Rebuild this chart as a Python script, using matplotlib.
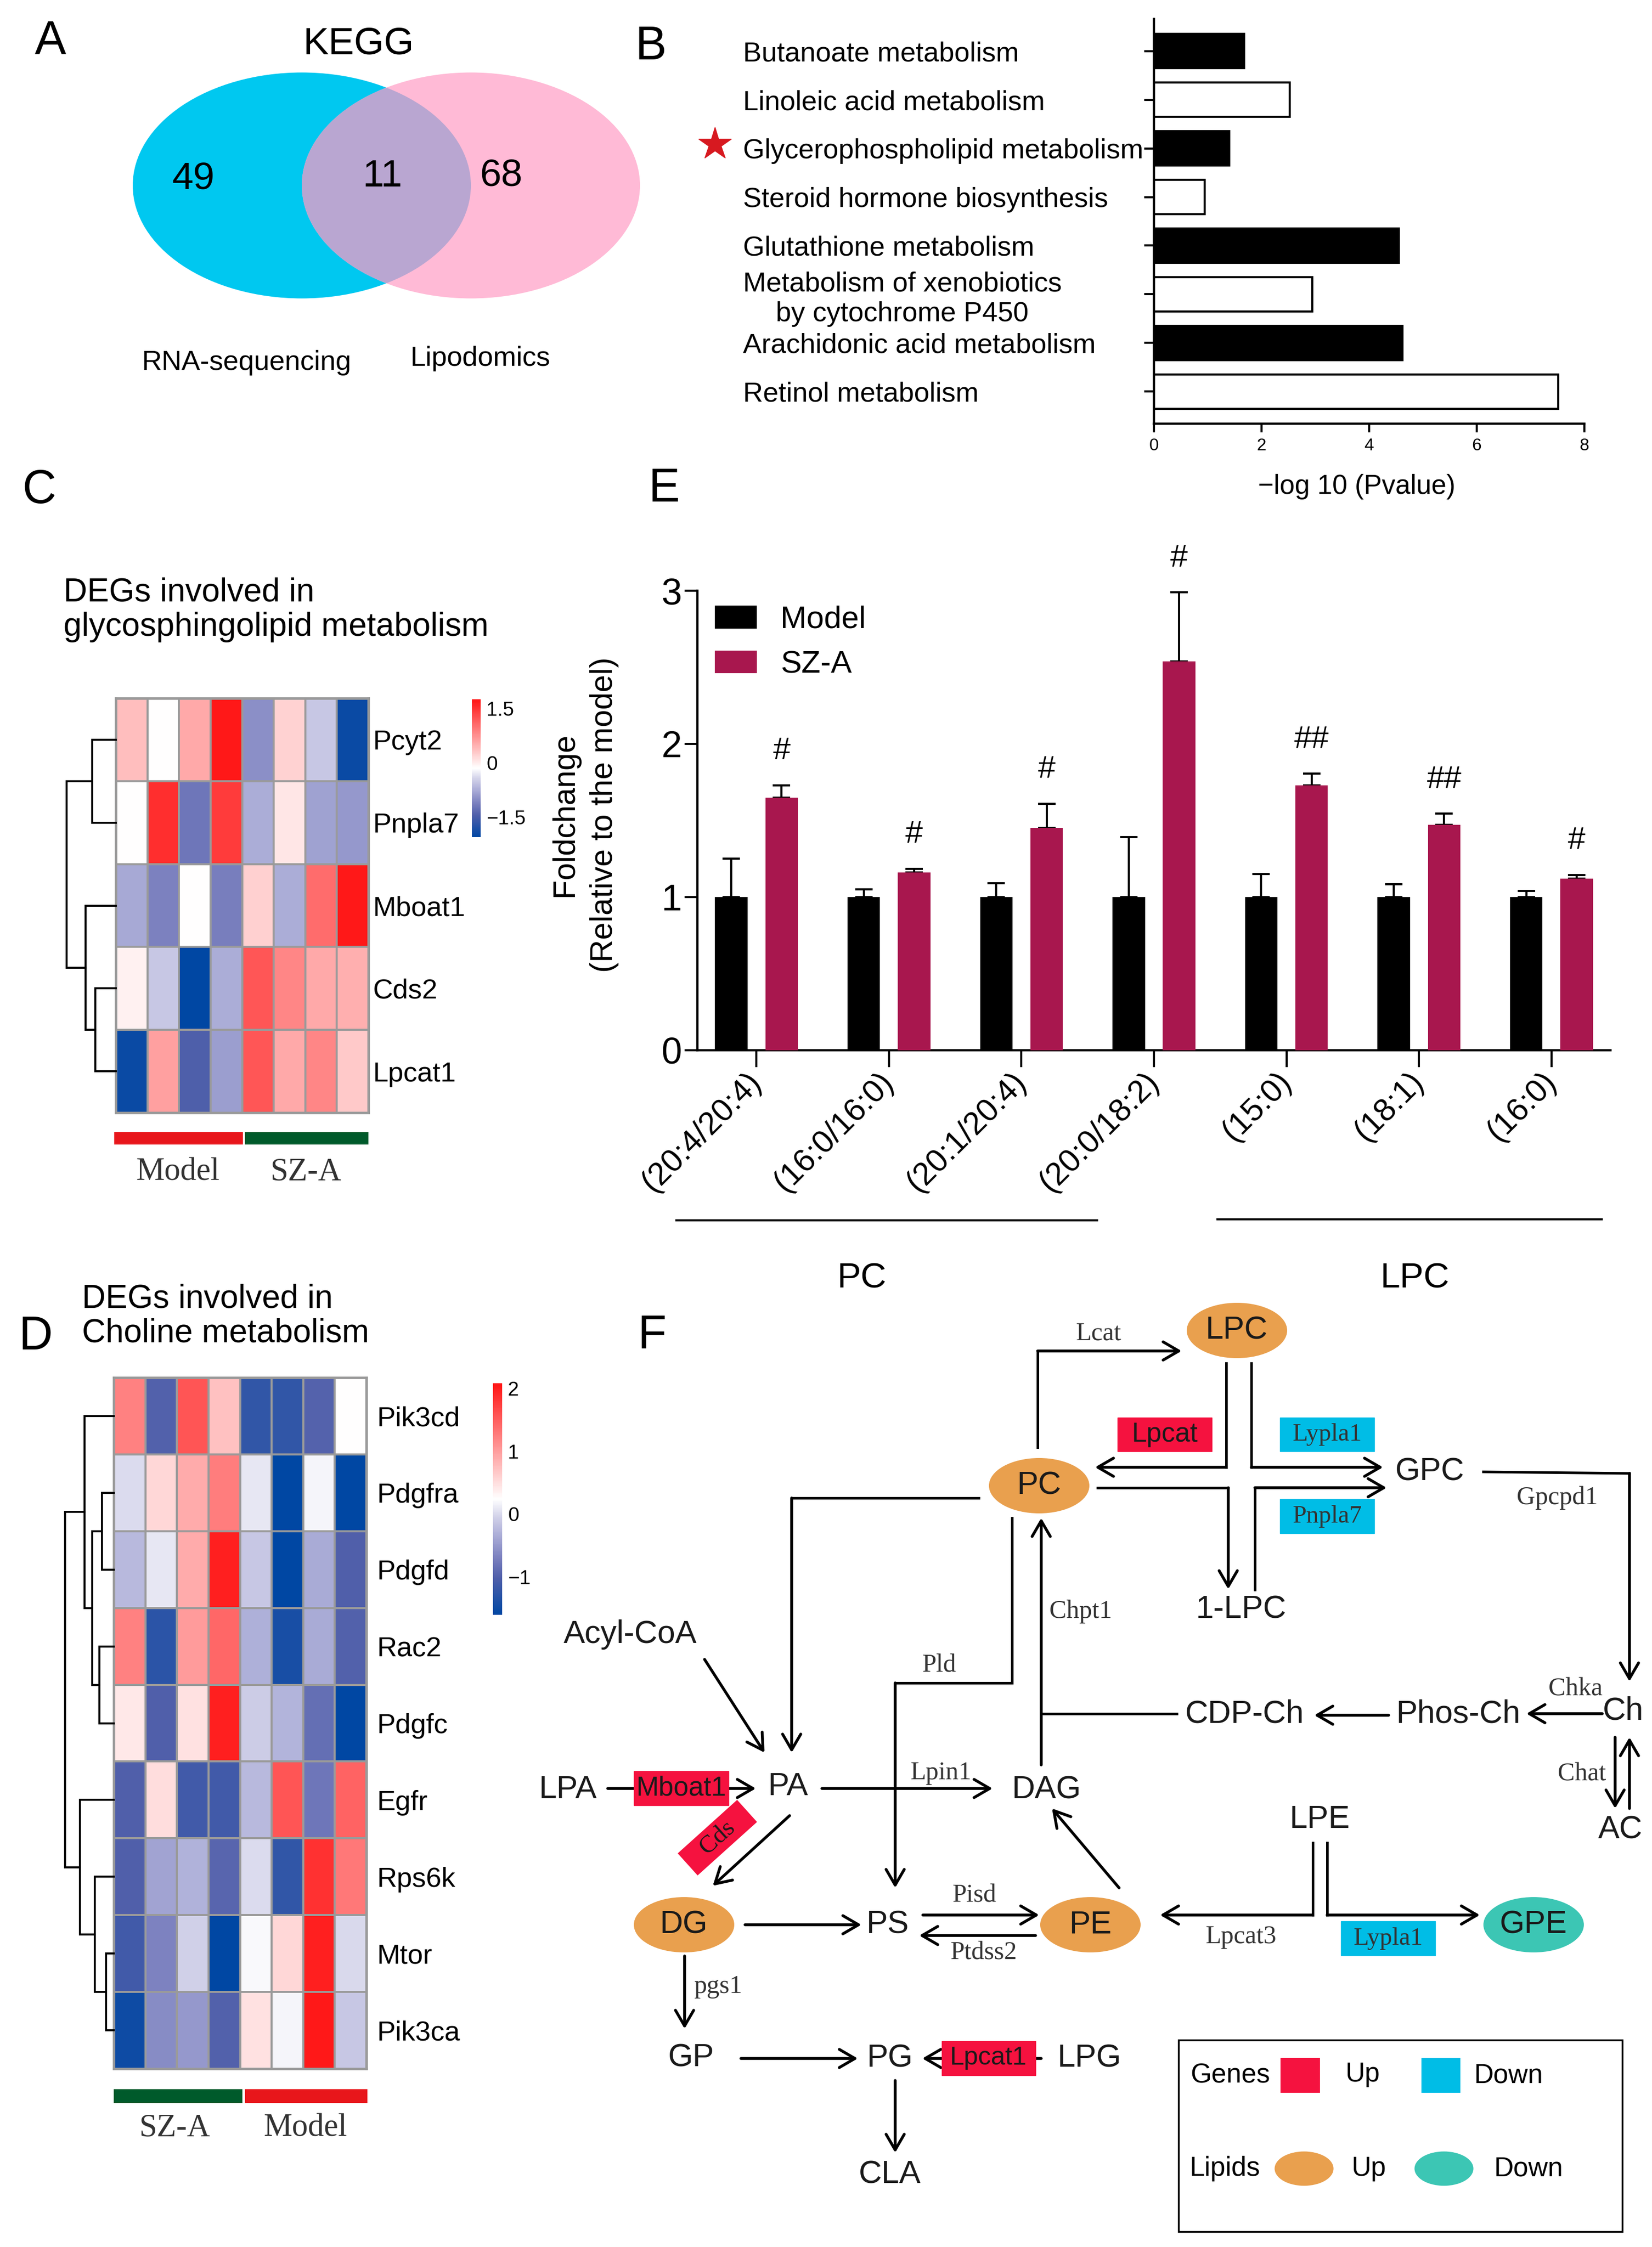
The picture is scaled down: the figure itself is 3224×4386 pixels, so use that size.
import matplotlib
matplotlib.use("Agg")
import matplotlib.pyplot as plt
import numpy as np
from matplotlib.patches import Ellipse, Rectangle
from matplotlib.colors import LinearSegmentedColormap, Normalize
from matplotlib.transforms import Affine2D

W, H = 3224, 4386
DPI = 100

SANS = ["Liberation Sans", "DejaVu Sans"]
SERIF = ["Liberation Serif", "DejaVu Serif"]
plt.rcParams["font.family"] = SANS

# ---------------- data ----------------
venn_counts = [49, 11, 68]
venn_sets = ["RNA-sequencing", "Lipodomics"]

kegg_pathways = ["Butanoate metabolism", "Linoleic acid metabolism",
                 "Glycerophospholipid metabolism", "Steroid hormone biosynthesis",
                 "Glutathione metabolism",
                 "Metabolism of xenobiotics\nby cytochrome P450",
                 "Arachidonic acid metabolism", "Retinol metabolism"]
kegg_logp = [1.68, 2.52, 1.40, 0.94, 4.55, 2.94, 4.62, 7.51]
kegg_filled = [True, False, True, False, True, False, True, False]

lipid_species = ["(20:4/20:4)", "(16:0/16:0)", "(20:1/20:4)", "(20:0/18:2)",
                 "(15:0)", "(18:1)", "(16:0)"]
model_fc = [1.0, 1.0, 1.0, 1.0, 1.0, 1.0, 1.0]
model_err = [0.25, 0.05, 0.09, 0.39, 0.15, 0.085, 0.04]
sza_fc = [1.65, 1.16, 1.45, 2.54, 1.73, 1.47, 1.12]
sza_err = [0.08, 0.025, 0.16, 0.45, 0.075, 0.075, 0.025]
sza_sig = ["#", "#", "#", "#", "##", "##", "#"]

genes_c = ["Pcyt2", "Pnpla7", "Mboat1", "Cds2", "Lpcat1"]
groups_c = ["Model", "SZ-A"]
expr_c = [
    [0.39, -0.14, 0.54, 1.72, -0.98, 0.22, -0.53, -1.97],
    [-0.14, 1.55, -1.21, 1.44, -0.75, 0.06, -0.83, -0.91],
    [-0.78, -1.10, -0.14, -1.13, 0.24, -0.75, 1.04, 1.72],
    [-0.03, -0.53, -2.05, -0.75, 1.21, 0.83, 0.54, 0.50],
    [-1.97, 0.62, -1.44, -0.87, 1.21, 0.54, 0.83, 0.30],
]
# merges (left, right, height); new nodes numbered after leaves
tree_c = [(0, 1, 46), (3, 4, 40), (2, 6, 59), (5, 7, 96)]
range_c = (-2.05, 1.76)

genes_d = ["Pik3cd", "Pdgfra", "Pdgfd", "Rac2", "Pdgfc", "Egfr", "Rps6k", "Mtor", "Pik3ca"]
groups_d = ["SZ-A", "Model"]
expr_d = [
    [1.23, -0.99, 1.57, 0.72, -1.23, -1.23, -0.97, 0.24],
    [0.02, 0.55, 0.90, 1.25, 0.09, -1.60, 0.17, -1.60],
    [-0.24, 0.09, 0.90, 1.99, -0.13, -1.60, -0.35, -1.01],
    [1.23, -1.27, 1.03, 1.42, -0.31, -1.42, -0.35, -0.99],
    [0.42, -1.00, 0.48, 1.99, -0.09, -0.28, -0.86, -1.60],
    [-1.00, 0.50, -1.12, -1.12, -0.24, 1.57, -0.79, 1.46],
    [-1.00, -0.42, -0.30, -0.95, 0.02, -1.23, 1.84, 1.29],
    [-1.12, -0.68, -0.05, -1.60, 0.20, 0.55, 1.99, 0.00],
    [-1.49, -0.60, -0.50, -0.99, 0.48, 0.18, 2.05, -0.13],
]
tree_d = [(1, 2, 23), (3, 4, 28), (9, 10, 42), (0, 11, 57),
          (7, 8, 15), (6, 13, 37), (5, 14, 66), (12, 15, 95)]
range_d = (-1.6, 2.08)

# ---------------- helpers ----------------
fig = plt.figure(figsize=(W / DPI, H / DPI), dpi=DPI)


def px_axes(x0, y0, x1, y1):
    return fig.add_axes([x0 / W, 1 - y1 / H, (x1 - x0) / W, (y1 - y0) / H])


ov = px_axes(0, 0, W, H)
ov.set_xlim(0, W)
ov.set_ylim(H, 0)
ov.axis("off")

LW = 3.6
RED_BOX = "#F5123F"
BLUE_BOX = "#00BDE6"
ORANGE = "#E9A04E"
TEAL = "#3CC6B4"

heat_cmap = LinearSegmentedColormap.from_list("bwr2", [
    (0.0, (0 / 255, 71 / 255, 163 / 255)),
    (0.16, (80 / 255, 95 / 255, 170 / 255)),
    (0.25, (125 / 255, 130 / 255, 192 / 255)),
    (0.34, (170 / 255, 172 / 255, 215 / 255)),
    (0.42, (208 / 255, 208 / 255, 232 / 255)),
    (0.5, (1, 1, 1)),
    (1.0, (1, 20 / 255, 20 / 255)),
])


def txt(x, y, s, size=45, family=SANS, **kw):
    kw.setdefault("ha", "center")
    kw.setdefault("va", "center")
    ov.text(x, y, s, fontsize=size, family=family, **kw)


def path_arrow(pts, head=True):
    xs = [p[0] for p in pts]
    ys = [p[1] for p in pts]
    if not head:
        ov.plot(xs, ys, color="k", lw=LW, solid_capstyle="butt", zorder=2)
        return
    if len(pts) > 2:
        ov.plot(xs[:-1], ys[:-1], color="k", lw=LW, solid_capstyle="projecting",
                solid_joinstyle="miter", zorder=2)
    ov.annotate("", xy=pts[-1], xytext=pts[-2],
                arrowprops=dict(arrowstyle="->,head_length=0.55,head_width=0.32",
                                lw=LW + 0.4, color="k", mutation_scale=40,
                                shrinkA=0, shrinkB=0), zorder=2)


def gene_box(x0, y0, x1, y1, label, color, family=SANS, size=38, tcol="#1a1a1a"):
    ov.add_patch(Rectangle((x0, y0), x1 - x0, y1 - y0, color=color, zorder=3))
    ov.text((x0 + x1) / 2, (y0 + y1) / 2, label, fontsize=size, family=family,
            ha="center", va="center", color=tcol, zorder=4)


def draw_tree(ax, merges, n):
    ypos = list(range(n))
    hts = [0] * n
    for a, b, h in merges:
        ax.plot([hts[a], h, h, hts[b]], [ypos[a], ypos[a], ypos[b], ypos[b]],
                color="k", lw=2.8, clip_on=False, solid_joinstyle="miter")
        ypos.append((ypos[a] + ypos[b]) / 2)
        hts.append(h)
    ax.set_xlim(merges[-1][2], 0)
    ax.set_ylim(n - 0.5, -0.5)
    ax.axis("off")


def heatmap(box, tree_box, cbar_box, values, genes, vrange, merges, cticks,
            cticklabels, label_pad):
    ax = px_axes(*box)
    data = np.array(values)
    norm = Normalize(vmin=vrange[0], vmax=vrange[1])
    mesh = ax.pcolormesh(data, cmap=heat_cmap, norm=norm, edgecolors="#9a9a9a",
                         linewidth=2.8)
    ax.set_xlim(0, data.shape[1])
    ax.set_ylim(data.shape[0], 0)
    ax.set_xticks([])
    ax.yaxis.tick_right()
    ax.set_yticks(np.arange(len(genes)) + 0.5, genes, fontsize=39)
    ax.tick_params(axis="y", length=0, pad=label_pad)
    for s in ax.spines.values():
        s.set_color("#9a9a9a")
        s.set_linewidth(3.5)
    tax = px_axes(*tree_box)
    draw_tree(tax, merges, len(genes))
    cax = px_axes(*cbar_box)
    cb = fig.colorbar(mesh, cax=cax, ticks=cticks)
    cb.outline.set_visible(False)
    cb.ax.set_yticklabels(cticklabels, fontsize=28)
    cb.ax.tick_params(length=0, pad=8)
    return ax


# ---------------- A: Venn ----------------
txt(98, 82, "A", size=66)
txt(700, 86, "KEGG", size=54)
e_blue = Ellipse((589, 362), 660, 441, color="#00C8F0", lw=0)
e_pink = Ellipse((919, 362), 660, 441, color="#FFBAD6", lw=0)
ov.add_patch(e_blue)
ov.add_patch(e_pink)
e_mid = Ellipse((589, 362), 660, 441, color="#B9A6D1", lw=0)
ov.add_patch(e_mid)
e_mid.set_clip_path(e_pink)
txt(377, 350, str(venn_counts[0]), size=54)
txt(746, 345, str(venn_counts[1]), size=54)
txt(978, 343, str(venn_counts[2]), size=54)
txt(481, 708, venn_sets[0], size=39)
txt(937, 700, venn_sets[1], size=39)

# ---------------- B: KEGG bars ----------------
txt(1270, 92, "B", size=66)
axB = px_axes(2252, 37, 3092, 827)
yB = np.arange(len(kegg_pathways))
axB.barh(yB, kegg_logp, height=0.7,
         color=["black" if f else "white" for f in kegg_filled],
         edgecolor="black", linewidth=3)
axB.set_xlim(0, 8)
axB.set_ylim(len(kegg_pathways) - 0.34, -0.66)
for s in ["top", "right"]:
    axB.spines[s].set_visible(False)
for s in ["left", "bottom"]:
    axB.spines[s].set_linewidth(3.2)
axB.set_xticks([0, 2, 4, 6, 8])
axB.tick_params(axis="x", labelsize=24, width=3, length=12, pad=8)
axB.set_yticks(yB, kegg_pathways)
axB.tick_params(axis="y", labelsize=39, width=3, length=14, pad=(2252 - 14 - 1455) * 0.72)
for lab in axB.get_yticklabels():
    lab.set_ha("left")
    lab.set_multialignment("center")
txt(2648, 950, "\u2212log 10 (Pvalue)", size=38)
ov.plot([1395], [281], marker="*", markersize=48, color="#D71920", mec="#D71920")

# ---------------- E: bar chart ----------------
txt(1296, 955, "E", size=66)
axE = px_axes(1361, 1153, 3143, 2050)
xE = np.arange(len(lipid_species))
bw, off = 0.245, 0.19
axE.bar(xE - off, model_fc, width=bw, color="black", zorder=3, label="Model")
axE.bar(xE + off, sza_fc, width=bw, color="#A8174E", zorder=3, label="SZ-A")
axE.errorbar(xE - off, model_fc, yerr=[np.zeros(7), model_err], fmt="none",
             ecolor="black", elinewidth=3, capsize=12, capthick=3, zorder=2)
axE.errorbar(xE + off, sza_fc, yerr=[np.zeros(7), sza_err], fmt="none",
             ecolor="black", elinewidth=3, capsize=12, capthick=3, zorder=2)
for xi, v, e, s in zip(xE, sza_fc, sza_err, sza_sig):
    axE.text(xi + off, v + e + 0.22, s, fontsize=44, ha="center", va="center")
axE.set_xlim(-0.445, len(lipid_species) - 0.555)
axE.set_ylim(0, 3)
for s in ["top", "right"]:
    axE.spines[s].set_visible(False)
for s in ["left", "bottom"]:
    axE.spines[s].set_linewidth(3.2)
axE.set_yticks([0, 1, 2, 3])
axE.tick_params(axis="y", labelsize=52, width=3, length=18, pad=4)
axE.set_xticks(xE, lipid_species, rotation=45, ha="right", va="center",
               rotation_mode="anchor")
axE.tick_params(axis="x", labelsize=45, width=3, length=24, pad=14)
leg = axE.legend(loc="upper left", bbox_to_anchor=(0.019, 0.968), frameon=False,
                 fontsize=44, handlelength=1.35, handleheight=0.75,
                 handletextpad=0.75, labelspacing=0.5, borderpad=0,
                 borderaxespad=0)
txt(1141, 1590, "Foldchange\n(Relative to the model)", size=44, rotation=90,
    multialignment="center", linespacing=1.45)
ov.plot([1320, 2141], [2382, 2382], color="k", lw=3)
ov.plot([2376, 3126], [2380, 2380], color="k", lw=3)
txt(1682, 2495, "PC", size=50)
txt(2761, 2495, "LPC", size=50)

# ---------------- C: heatmap ----------------
txt(76, 958, "C", size=66)
txt(124, 1190, "DEGs involved in\nglycosphingolipid metabolism", size=46,
    ha="left", linespacing=1.15)
heatmap((226, 1363, 719, 2172), (130, 1363, 226, 2172), (921, 1365, 938, 1634),
        expr_c, genes_c, range_c, tree_c, [1.5, 0, -1.5], ["1.5", "0", "\u22121.5"], 6)
ov.add_patch(Rectangle((223, 2210), 251, 24, color="#E8161B", lw=0))
ov.add_patch(Rectangle((478, 2210), 241, 24, color="#005A2B", lw=0))
txt(347, 2288, groups_c[0], size=45, family=SERIF, color="#333333")
txt(597, 2288, groups_c[1], size=45, family=SERIF, color="#333333")

# ---------------- D: heatmap ----------------
txt(70, 2610, "D", size=66)
txt(160, 2569, "DEGs involved in\nCholine metabolism", size=46, ha="left",
    linespacing=1.15)
heatmap((222, 2689, 715, 4038), (127, 2689, 222, 4038), (962, 2700, 980, 3152),
        expr_d, genes_d, range_d, tree_d, [2, 1, 0, -1], ["2", "1", "0", "\u22121"], 15)
ov.add_patch(Rectangle((222, 4078), 251, 27, color="#005A2B", lw=0))
ov.add_patch(Rectangle((478, 4078), 239, 27, color="#E8161B", lw=0))
txt(341, 4155, groups_d[0], size=45, family=SERIF, color="#333333")
txt(596, 4155, groups_d[1], size=45, family=SERIF, color="#333333")

# ---------------- F: pathway ----------------
txt(1272, 2608, "F", size=66)
for (cx, cy), col in [((2414, 2597), ORANGE), ((2028, 2900), ORANGE),
                      ((1335, 3757), ORANGE), ((2128, 3757), ORANGE),
                      ((2993, 3757), TEAL)]:
    ov.add_patch(Ellipse((cx, cy), 196, 108, color=col, lw=0, zorder=1))

arrows = [
    [(2025, 2825), (2025, 2637), (2306, 2637)],
    [(2393, 2661), (2393, 2864), (2137, 2864)],
    [(2442, 2661), (2442, 2864), (2699, 2864)],
    [(2142, 2904), (2397, 2904), (2397, 3102)],
    [(2449, 3103), (2449, 2904), (2706, 2904)],
    [(2895, 2873), (3180, 2876), (3180, 3282)],
    [(1910, 2924), (1545, 2924), (1545, 3421)],
    [(1975, 2963), (1975, 3285), (1747, 3285), (1747, 3685)],
    [(2032, 3445), (2032, 2963)],
    [(2710, 3348), (2565, 3348)],
    [(3127, 3345), (2979, 3345)],
    [(3152, 3391), (3152, 3530)],
    [(3180, 3530), (3180, 3391)],
    [(1375, 3239), (1492, 3421)],
    [(1186, 3491), (1475, 3491)],
    [(1604, 3491), (1937, 3491)],
    [(1541, 3544), (1391, 3681)],
    [(1454, 3757), (1681, 3757)],
    [(1801, 3738), (2028, 3738)],
    [(2021, 3778), (1794, 3778)],
    [(2184, 3685), (2053, 3530)],
    [(2562, 3597), (2562, 3738), (2264, 3738)],
    [(2590, 3597), (2590, 3738), (2888, 3738)],
    [(1336, 3818), (1336, 3960)],
    [(1446, 4018), (1674, 4018)],
    [(2032, 4018), (1800, 4018)],
    [(1747, 4061), (1747, 4202)],
]
for a in arrows:
    path_arrow(a)
path_arrow([(2299, 3345), (2032, 3345)], head=False)

for (x, y), s in [((2414, 2597), "LPC"), ((2028, 2900), "PC"), ((2790, 2873), "GPC"),
                  ((2422, 3142), "1-LPC"), ((1230, 3191), "Acyl-CoA"),
                  ((2429, 3346), "CDP-Ch"), ((2846, 3346), "Phos-Ch"),
                  ((3168, 3340), "Ch"), ((3162, 3572), "AC"), ((1109, 3494), "LPA"),
                  ((1538, 3488), "PA"), ((2043, 3494), "DAG"), ((2576, 3551), "LPE"),
                  ((1335, 3757), "DG"), ((1733, 3757), "PS"), ((2128, 3757), "PE"),
                  ((2993, 3757), "GPE"), ((1349, 4017), "GP"), ((1737, 4018), "PG"),
                  ((2126, 4018), "LPG"), ((1737, 4245), "CLA")]:
    txt(x, y, s, size=45, color="#1a1a1a", zorder=5)

for (x, y), s in [((2144, 2603), "Lcat"), ((3039, 2924), "Gpcpd1"),
                  ((2109, 3146), "Chpt1"), ((1833, 3251), "Pld"),
                  ((3075, 3297), "Chka"), ((3087, 3463), "Chat"),
                  ((1836, 3461), "Lpin1"), ((1902, 3700), "Pisd"),
                  ((1920, 3812), "Ptdss2"), ((2422, 3781), "Lpcat3"),
                  ((1401, 3878), "pgs1")]:
    txt(x, y, s, size=36, family=SERIF, color="#333333")

gene_box(2181, 2767, 2365, 2833, "Lpcat", RED_BOX)
gene_box(1237, 3457, 1422, 3524, "Mboat1", RED_BOX)
gene_box(1838, 3984, 2021, 4051, "Lpcat1", RED_BOX, size=36)
gene_box(2498, 2767, 2682, 2833, "Lypla1", BLUE_BOX, family=SERIF, size=35, tcol="#333333")
gene_box(2498, 2926, 2682, 2993, "Pnpla7", BLUE_BOX, family=SERIF, size=35, tcol="#333333")
gene_box(2617, 3750, 2801, 3817, "Lypla1", BLUE_BOX, family=SERIF, size=35, tcol="#333333")

cds = Rectangle((-78, -29), 156, 58, color=RED_BOX, lw=0, zorder=3)
cds.set_transform(Affine2D().rotate_deg(-42).translate(1400, 3587) + ov.transData)
ov.add_patch(cds)
txt(1400, 3587, "Cds", size=35, family=SERIF, rotation=42, color="#1a1a1a", zorder=4)

# legend of panel F
ov.add_patch(Rectangle((2300, 3982), 866, 374, fill=False, ec="black", lw=2.5))
txt(2401, 4051, "Genes", size=38)
ov.add_patch(Rectangle((2499, 4017), 77, 68, color=RED_BOX, lw=0))
txt(2660, 4049, "Up", size=38)
ov.add_patch(Rectangle((2774, 4017), 76, 68, color=BLUE_BOX, lw=0))
txt(2944, 4051, "Down", size=38)
txt(2390, 4233, "Lipids", size=38)
ov.add_patch(Ellipse((2545, 4233), 115, 67, color=ORANGE, lw=0))
txt(2672, 4233, "Up", size=38)
ov.add_patch(Ellipse((2818, 4233), 115, 67, color=TEAL, lw=0))
txt(2983, 4233, "Down", size=38)

fig.savefig("out.png", dpi=DPI)
